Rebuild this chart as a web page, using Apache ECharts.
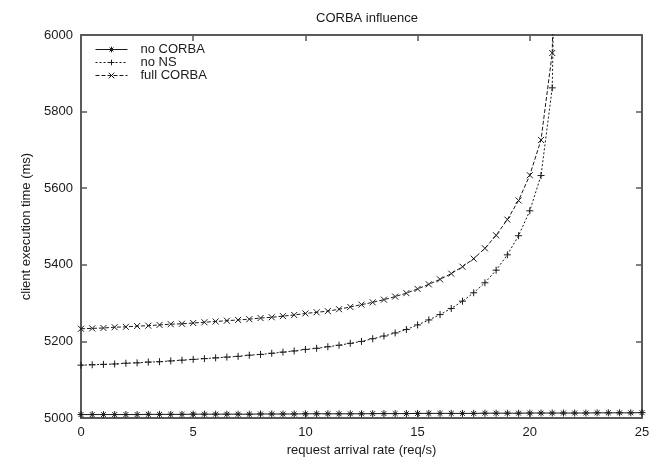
<!DOCTYPE html>
<html>
<head>
<meta charset="utf-8">
<script src="https://cdn.jsdelivr.net/npm/echarts@6/dist/echarts.min.js"></script>
<style>
html,body{margin:0;padding:0;background:#fff;}
#chart{width:655px;height:457px;}
</style>
</head>
<body>
<div id="chart"></div>
<script>
// ---- data ----
var chartTitle = 'CORBA influence';
var xName = 'request arrival rate (req/s)';
var yName = 'client execution time (ms)';
var seriesNames = ['no CORBA', 'no NS', 'full CORBA'];

var xNoCorba = [0,0.5,1,1.5,2,2.5,3,3.5,4,4.5,5,5.5,6,6.5,7,7.5,8,8.5,9,9.5,10,10.5,11,11.5,12,12.5,13,13.5,14,14.5,15,15.5,16,16.5,17,17.5,18,18.5,19,19.5,20,20.5,21,21.5,22,22.5,23,23.5,24,24.5,25];
var yNoCorba = [5009,5009,5009,5009,5009,5009,5009.5,5009.5,5009.5,5009.5,5010,5010,5010,5010,5010,5010,5010.5,5010.5,5010.5,5010.5,5011,5011,5011,5011,5011,5011,5011.5,5011.5,5011.5,5011.5,5012,5012,5012,5012,5012,5012,5012.5,5012.5,5012.5,5012.5,5013,5013,5013,5013,5013,5013,5013.5,5013.5,5013.5,5013.5,5014];

var xNoNS = [0,0.5,1,1.5,2,2.5,3,3.5,4,4.5,5,5.5,6,6.5,7,7.5,8,8.5,9,9.5,10,10.5,11,11.5,12,12.5,13,13.5,14,14.5,15,15.5,16,16.5,17,17.5,18,18.5,19,19.5,20,20.5,21,21.5];
var yNoNS = [5138,5139,5140,5141,5143,5144,5146,5147,5149,5151,5153,5155,5157,5159,5161,5164,5166,5169,5172,5175,5179,5182,5186,5190,5195,5200,5207,5214,5222,5231,5243,5256,5270,5286,5305,5327,5353,5386,5426,5476,5541,5633,5862,7500];

var xFull = [0,0.5,1,1.5,2,2.5,3,3.5,4,4.5,5,5.5,6,6.5,7,7.5,8,8.5,9,9.5,10,10.5,11,11.5,12,12.5,13,13.5,14,14.5,15,15.5,16,16.5,17,17.5,18,18.5,19,19.5,20,20.5,21,21.5];
var yFull = [5233,5234,5235,5237,5238,5240,5241,5243,5245,5246,5248,5250,5252,5254,5256,5258,5261,5263,5266,5269,5273,5276,5279,5284,5290,5296,5302,5309,5317,5326,5337,5349,5362,5377,5395,5416,5443,5477,5518,5568,5634,5726,5953,7500];

var xTicks = {min: 0, max: 25, interval: 5};
var yTicks = {min: 5000, max: 6000, interval: 200};

function pairs(xs, ys){ return xs.map(function(x,i){ return [x, ys[i]]; }); }

var INK = '#1a1a1a';
var AXIS = '#5a5a5a';
var FONT = '"Liberation Sans", Arial, Helvetica, sans-serif';

var symStar = 'path://M0,5L10,5M5,0L5,10M1.5,1.5L8.5,8.5M8.5,1.5L1.5,8.5';
var symPlus = 'path://M0,5L10,5M5,0L5,10';
var symCross = 'path://M0,0L10,10M10,0L0,10';

function mkSeries(name, data, sym, size, dash){
  return {
    name: name, type: 'line', data: data,
    symbol: sym, symbolSize: size, showAllSymbol: true,
    clip: true, animation: false,
    lineStyle: {color: INK, width: 1, type: dash},
    itemStyle: {color: 'rgba(0,0,0,0)', borderColor: INK, borderWidth: 1},
    emphasis: {disabled: true}
  };
}

var chart = echarts.init(document.getElementById('chart'), null, {renderer: 'canvas'});
var axisCommonX = {
  type: 'value', min: xTicks.min, max: xTicks.max, interval: xTicks.interval,
  splitLine: {show: false},
  axisLine: {show: true, onZero: false, lineStyle: {color: AXIS, width: 2}},
  axisTick: {show: true, inside: true, length: 6, lineStyle: {color: AXIS, width: 1.5}}
};
var axisCommonY = {
  type: 'value', min: yTicks.min, max: yTicks.max, interval: yTicks.interval,
  splitLine: {show: false},
  axisLine: {show: true, onZero: false, lineStyle: {color: AXIS, width: 2}},
  axisTick: {show: true, inside: true, length: 6, lineStyle: {color: AXIS, width: 1.5}}
};

chart.setOption({
  backgroundColor: '#fff',
  animation: false,
  textStyle: {fontFamily: FONT},
  title: {
    text: chartTitle, left: 311, top: 7,
    textStyle: {fontFamily: FONT, fontSize: 13, fontWeight: 'normal', color: INK}
  },
  grid: {left: 81, right: 13, top: 35, bottom: 39, containLabel: false, outerBoundsMode: 'none'},
  legend: {
    orient: 'vertical', left: 95, top: 43, itemGap: 0,
    itemWidth: 32, itemHeight: 7, padding: 0,
    textStyle: {fontFamily: FONT, fontSize: 13, color: INK, lineHeight: 13, padding: [0,0,0,8]},
    itemStyle: {color: 'rgba(0,0,0,0)', borderColor: INK, borderWidth: 1},
    lineStyle: {color: INK, width: 1, type: 'inherit'},
    data: seriesNames,
    selectedMode: false
  },
  xAxis: [
    Object.assign({}, axisCommonX, {
      position: 'bottom',
      name: xName, nameLocation: 'middle', nameGap: 25,
      nameTextStyle: {fontFamily: FONT, fontSize: 13, color: INK},
      axisLabel: {fontFamily: FONT, fontSize: 13, color: INK, margin: 8}
    }),
    Object.assign({}, axisCommonX, {position: 'top', axisLabel: {show: false}})
  ],
  yAxis: [
    Object.assign({}, axisCommonY, {
      position: 'left',
      name: yName, nameLocation: 'middle', nameGap: 48, nameRotate: 90,
      nameTextStyle: {fontFamily: FONT, fontSize: 13, color: INK},
      axisLabel: {fontFamily: FONT, fontSize: 13, color: INK, margin: 8,
        formatter: function(v){ return String(v); }}
    }),
    Object.assign({}, axisCommonY, {position: 'right', axisLabel: {show: false}})
  ],
  series: [
    mkSeries(seriesNames[0], pairs(xNoCorba, yNoCorba), symStar, 7, 'solid'),
    mkSeries(seriesNames[1], pairs(xNoNS, yNoNS), symPlus, 7, [2, 2]),
    mkSeries(seriesNames[2], pairs(xFull, yFull), symCross, 6, [4, 2])
  ]
});
</script>
</body>
</html>
